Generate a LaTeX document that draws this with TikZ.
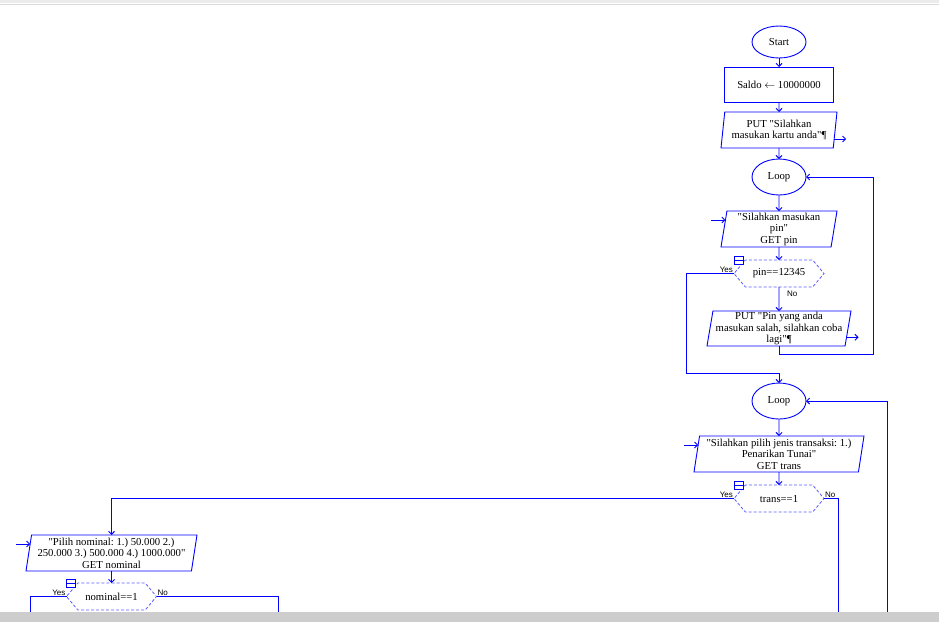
\documentclass[tikz,border=0pt]{standalone}
\usepackage{fontspec}
\setmainfont{Liberation Serif}[Ligatures=TeXOff]
\newfontfamily\lblfont{Liberation Sans}
\usetikzlibrary{arrows.meta,positioning,shapes.geometric,shapes.symbols,calc}
\definecolor{Flow}{HTML}{0000FF}
\definecolor{Cond}{HTML}{5A5AFF}
\definecolor{Bar}{HTML}{CDCDCD}
\definecolor{TopBar}{HTML}{EBEBEB}
\frenchspacing

\begin{document}
\begin{tikzpicture}[
  x=1pt,y=-1pt,
  font=\fontsize{10.7}{11.5}\selectfont,
  term/.style={ellipse,draw=Flow,line width=0.9pt,outer sep=0pt,minimum width=54pt,minimum height=36pt,inner sep=0pt},
  proc/.style={rectangle,draw=Flow,line width=0.9pt,outer sep=0pt,minimum width=109pt,minimum height=35pt},
  iobox/.style={trapezium,trapezium left angle=80,trapezium right angle=100,trapezium stretches body,draw=Flow,line width=0.9pt,outer sep=0pt,minimum height=36pt,align=center,inner sep=0.5pt},
  cond/.style={signal,signal to=west and east,signal pointer angle=100,draw=Cond,line width=0.8pt,outer sep=0pt,dash pattern=on 3pt off 2pt,minimum width=90pt,minimum height=27pt,inner sep=0pt},
  foldbox/.style={rectangle,draw=Flow,line width=0.8pt,fill=white,minimum width=9pt,minimum height=8pt,inner sep=0pt,path picture={\draw[Flow,line width=0.8pt] (path picture bounding box.west) -- (path picture bounding box.east);}},
  lbl/.style={font=\lblfont\fontsize{8}{9}\selectfont,inner sep=1pt},
  flow/.style={draw=Flow,line width=0.9pt,-{Straight Barb[length=3pt,width=6pt]}},
  wire/.style={draw=Flow,line width=0.9pt}
]
\useasboundingbox (0,0) rectangle (939,622);
\fill[TopBar] (0,0) rectangle (939,3);
\draw[gray!30] (0,4.5) -- (939,4.5);

% main column
\node[term,minimum height=32pt] (start) at (779,42) {Start};
\node[proc,below=9pt of start] (saldo) {Saldo $\leftarrow$ 10000000};
\node[iobox,minimum width=116pt,below=10pt of saldo] (put1) {PUT "Silahkan\\masukan kartu anda"¶};
\node[term,below=11pt of put1] (loop1) {Loop};
\node[iobox,minimum width=116pt,below=16pt of loop1] (inp1) {"Silahkan masukan\\pin"\\GET pin};
\node[cond,below=13pt of inp1] (pin) {pin==12345};
\node[iobox,minimum width=144pt,minimum height=35pt,below=24pt of pin] (put2) {PUT "Pin yang anda\\masukan salah, silahkan coba\\lagi"¶};
\node[term,below=37pt of put2] (loop2) {Loop};
\node[iobox,minimum width=170pt,below=17pt of loop2] (inp2) {"Silahkan pilih jenis transaksi: 1.)\\Penarikan Tunai"\\GET trans};
\node[cond,below=13pt of inp2] (trans) {trans==1};

% left column
\node[iobox,minimum width=171pt] (inp3) at (111.5,553) {"Pilih nominal: 1.) 50.000 2.)\\250.000 3.) 500.000 4.) 1000.000"\\GET nominal};
\node[cond,below=12pt of inp3] (nom) {nominal==1};

% fold icons and labels
\node[foldbox] (pinfold) at ($(pin.west)+(4.5,-13)$) {};
\node[foldbox] (transfold) at ($(trans.west)+(4.5,-13.5)$) {};
\node[foldbox] (nomfold) at ($(nom.west)+(4.5,-13.5)$) {};
\node[lbl,anchor=south east] (pinyes) at (pin.west) {Yes};
\node[lbl,anchor=north west] (pinno) at ($(pin.south)+(7,3)$) {No};
\node[lbl,anchor=south east] (transyes) at (trans.west) {Yes};
\node[lbl,anchor=south west] (transno) at (trans.east) {No};
\node[lbl,anchor=south east] (nomyes) at (nom.west) {Yes};
\node[lbl,anchor=south west] (nomno) at (nom.east) {No};

% flow
\draw[flow] (start) -- (saldo);
\draw[flow] (saldo) -- (put1);
\draw[flow] (put1) -- (loop1);
\draw[flow] (loop1) -- (inp1);
\draw[flow] (inp1) -- (pin);
\draw[flow] (pin) -- (put2);
\draw[flow] (put2.south) -- ++(0,8) -| ([xshift=67pt]loop1.east) -- (loop1.east);
\coordinate (j1) at ($(loop2.north)+(0,-10)$);
\draw[flow] (pin.west) -- ++(-48,0) |- (j1) -- (loop2.north);
\draw[flow] (loop2) -- (inp2);
\draw[flow] (inp2) -- (trans);
\draw[flow] (trans.west) -| (inp3.north);
\draw[flow] (inp3) -- (nom);
\coordinate (back2) at (887,612);
\draw[flow] (back2) |- (loop2.east);
\coordinate (transout) at (838,612);
\draw[wire] (trans.east) -| (transout);
\coordinate (nomout1) at (30,612);
\draw[wire] (nom.west) -| (nomout1);
\coordinate (nomout2) at (278,612);
\draw[wire] (nom.east) -| (nomout2);

% input / output stubs
\coordinate (in1) at ($(inp1.top left corner)!0.25!(inp1.bottom left corner)$);
\draw[flow] ([xshift=-14pt]in1) -- (in1);
\coordinate (in2) at ($(inp2.top left corner)!0.25!(inp2.bottom left corner)$);
\draw[flow] ([xshift=-14pt]in2) -- (in2);
\coordinate (in3) at ($(inp3.top left corner)!0.25!(inp3.bottom left corner)$);
\draw[flow] ([xshift=-14pt]in3) -- (in3);
\coordinate (out1) at ($(put1.top right corner)!0.75!(put1.bottom right corner)$);
\draw[flow] (out1) -- ++(12,0);
\coordinate (out2) at ($(put2.top right corner)!0.75!(put2.bottom right corner)$);
\draw[flow] (out2) -- ++(12,0);

\fill[Bar] (0,612) rectangle (939,622);
\end{tikzpicture}
\end{document}
